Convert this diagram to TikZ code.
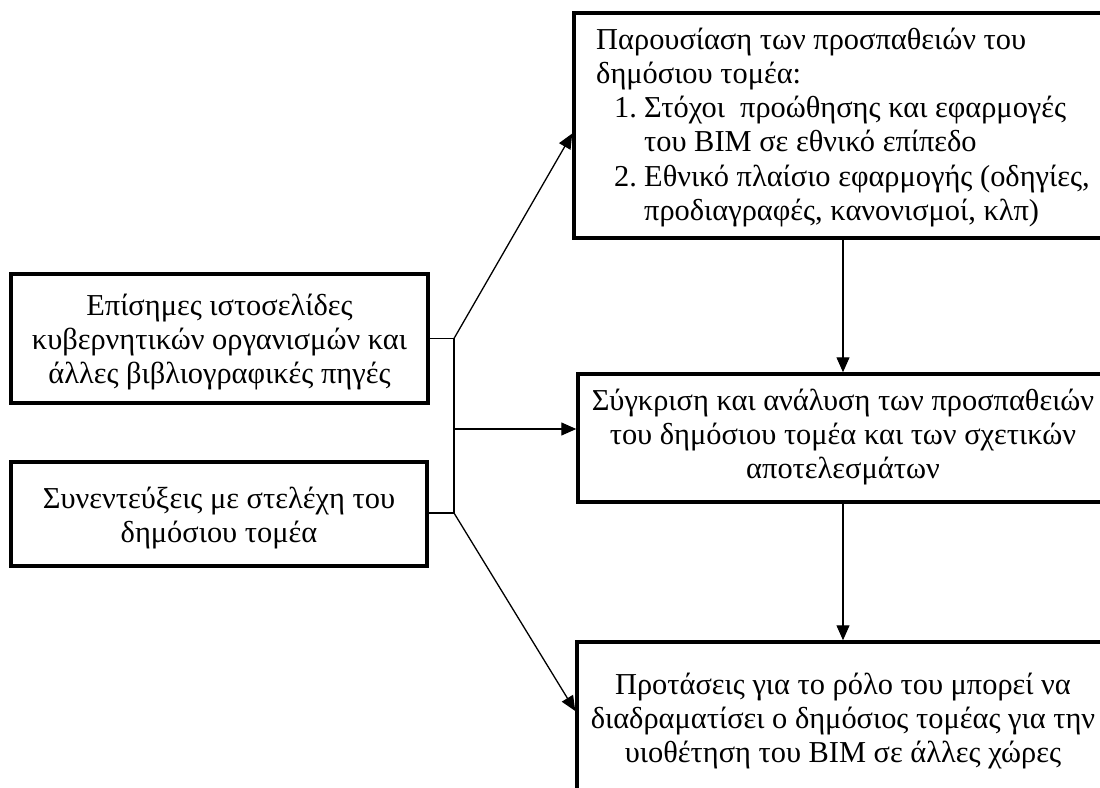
\documentclass[tikz,border=0pt]{standalone}
\usepackage{fontspec}
\setmainfont{Liberation Serif}
\usetikzlibrary{arrows.meta}

% centred and left-aligned multi-line blocks whose baseline is the first line
\newcommand\centredlines[1]{\vtop{\halign{\hfil##\hfil\cr#1\crcr}}}
\newcommand\leftlines[1]{\vtop{\halign{##\hfil\cr#1\crcr}}}

\begin{document}
\begin{tikzpicture}[x=1pt,y=-1pt,
  every node/.style={font=\fontsize{30.4}{34.3}\selectfont},
  frame/.style={draw, line width=3.5pt, inner sep=0pt},
  label text/.style={inner sep=0pt, anchor=base},
  wire/.style={line width=1.3pt},
  flow/.style={wire, -{Triangle[length=15pt,width=13pt]}}]

\path[use as bounding box] (0,0) rectangle (1100,787);
\clip (0,0) rectangle (1100,787);

% source boxes on the left
\node[frame, minimum width=417pt, minimum height=129pt] (sources) at (219.5,338.5) {};
\node[frame, minimum width=416pt, minimum height=104pt] (interviews) at (219,514) {};

% result boxes on the right
\node[frame, minimum width=538pt, minimum height=225pt] (efforts) at (843,125.5) {};
\node[frame, minimum width=530pt, minimum height=128pt] (compare) at (843,438) {};
\node[frame, minimum width=532pt, minimum height=200pt] (proposals) at (843,742) {};

% texts
\node[label text] (sourcesText) at (219.5,315) {\centredlines{%
  Επίσημες ιστοσελίδες\cr
  κυβερνητικών οργανισμών και\cr
  άλλες βιβλιογραφικές πηγές}};
\node[label text] (interviewsText) at (219,508) {\centredlines{%
  Συνεντεύξεις με στελέχη του\cr
  δημόσιου τομέα}};
\node[label text, anchor=base west] (effortsText) at (596,49) {\leftlines{%
  Παρουσίαση των προσπαθειών του\cr
  δημόσιου τομέα:\cr
  \kern18pt\makebox[30pt][l]{1.}Στόχοι\ \ προώθησης και εφαρμογές\cr
  \kern48pt του BIM σε εθνικό επίπεδο\cr
  \kern18pt\makebox[30pt][l]{2.}Εθνικό πλαίσιο εφαρμογής (οδηγίες,\cr
  \kern48pt προδιαγραφές, κανονισμοί, κλπ)}};
\node[label text] (compareText) at (843,410) {\centredlines{%
  Σύγκριση και ανάλυση των προσπαθειών\cr
  του δημόσιου τομέα και των σχετικών\cr
  αποτελεσμάτων}};
\node[label text] (proposalsText) at (843,694) {\centredlines{%
  Προτάσεις για το ρόλο του μπορεί να\cr
  διαδραματίσει ο δημόσιος τομέας για την\cr
  υιοθέτηση του BIM σε άλλες χώρες}};

% bracket joining the two sources
\coordinate (busTop) at (454,338.5);
\coordinate (busBottom) at (454,513);
\coordinate (busMid) at (454,429);
\draw[wire] (sources.east) -- (busTop) -- (busBottom) -- (busBottom -| interviews.east);

% arrows out of the bracket
\draw[flow] (busTop) -- ([yshift=-8pt]efforts.west);
\draw[flow] (busMid) -- (busMid -| compare.west);
\draw[flow] (busBottom) -- ([yshift=31pt]proposals.west);

% vertical chain on the right
\draw[flow] (efforts.south) -- (compare.north);
\draw[flow] (compare.south) -- (proposals.north);
\end{tikzpicture}
\end{document}
